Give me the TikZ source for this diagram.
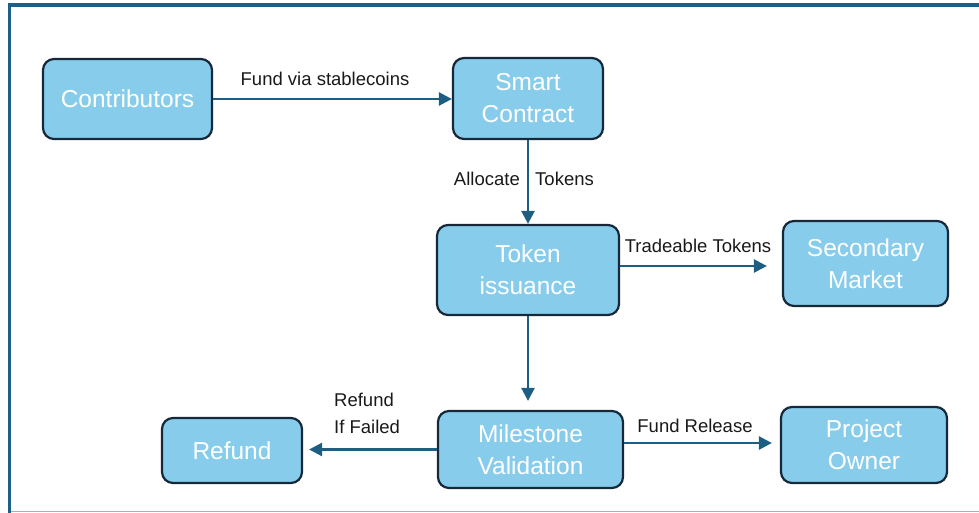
\documentclass[tikz,border=0pt]{standalone}
\usepackage{fontspec}
\setmainfont{Liberation Sans}
\usetikzlibrary{arrows.meta}
\definecolor{boxfill}{HTML}{87CDEB}
\definecolor{boxline}{HTML}{16293A}
\definecolor{arrowc}{HTML}{1D5E82}
\definecolor{framec}{HTML}{1F5F86}
\definecolor{framelight}{HTML}{8FB8D0}
\tikzset{
  flowbox/.style={draw=boxline, line width=2.2pt, fill=boxfill, rounded corners=11pt,
    text=white, align=center, font=\fontsize{24.5}{32}\selectfont, inner sep=0pt},
  flowarrow/.style={draw=arrowc, line width=2.5pt, -{Triangle[length=13pt,width=13pt]}},
  lbl/.style={text=black!90, font=\fontsize{18.5}{27}\selectfont, inner sep=0pt}
}
\begin{document}
\begin{tikzpicture}[x=1pt,y=-1pt]
\useasboundingbox (0,0) rectangle (979,513);
% frame
\coordinate (fTL) at (9.5,5);
\coordinate (fTR) at (979,5);
\coordinate (fBL) at (9.5,513);
\coordinate (bL) at (8,511.5);
\coordinate (bR) at (979,511.5);
\draw[framelight, line width=1pt] (bL) -- (bR);
\draw[framec, line width=3.5pt] (fBL) -- (fTL) -- (fTR);
% nodes
\node[flowbox, minimum width=169pt, minimum height=80pt] (contrib) at (127.5,99) {Contributors};
\node[flowbox, minimum width=150pt, minimum height=81pt] (smart) at (528,98.5) {Smart\\Contract};
\node[flowbox, minimum width=182pt, minimum height=90pt] (token) at (528,270) {Token\\issuance};
\node[flowbox, minimum width=165pt, minimum height=85pt] (second) at (865.5,263.5) {Secondary\\Market};
\node[flowbox, minimum width=140pt, minimum height=65pt] (refund) at (232,450.5) {Refund};
\node[flowbox, minimum width=185pt, minimum height=77pt] (mile) at (530.5,449.5) {Milestone\\Validation};
\node[flowbox, minimum width=166pt, minimum height=76pt] (owner) at (864,445) {Project\\Owner};
% connectors
\draw[flowarrow] (contrib.east) -- (contrib.east -| smart.west);
\draw[flowarrow] (smart.south) -- (token.north);
\draw[flowarrow, shorten >=15pt] ([yshift=4pt]token.east) -- ([yshift=4pt]token.east -| second.west);
\draw[flowarrow, shorten >=9pt] (token.south) -- (token.south |- mile.north);
\draw[flowarrow, shorten >=6pt] (mile.west) -- (mile.west -| refund.east);
\draw[flowarrow, shorten >=8pt] ([yshift=6.5pt]mile.east) -- ([yshift=6.5pt]mile.east -| owner.west);
% labels
\node[lbl] (l1) at (325,79) {Fund via stablecoins};
\node[lbl, anchor=east] (l2a) at (520,179) {Allocate};
\node[lbl, anchor=west] (l2b) at (535,179) {Tokens};
\node[lbl] (l3) at (698,246) {Tradeable Tokens};
\node[lbl, anchor=west, align=left] (l4) at (334,413.5) {Refund\\If Failed};
\node[lbl] (l5) at (695,426) {Fund Release};
\end{tikzpicture}
\end{document}
